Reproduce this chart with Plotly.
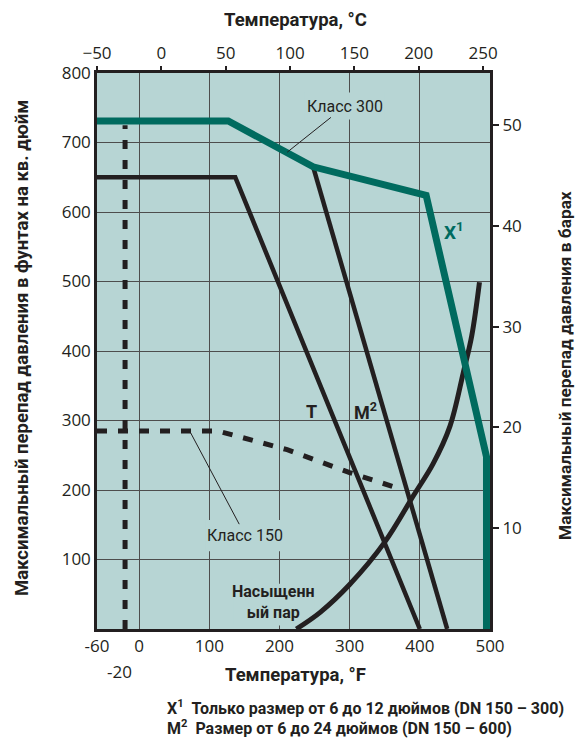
import plotly.graph_objects as go

# Axis ticks
temp_f_ticks = [-60, 0, 100, 200, 300, 400, 500]
temp_c_ticks = [-50, 0, 50, 100, 150, 200, 250]
psi_ticks = [100, 200, 300, 400, 500, 600, 700, 800]
bar_ticks = [10, 20, 30, 40, 50]

# Class 300 rating (teal)
class300_f = [-60, 127, 248, 409, 495, 495]
class300_psi = [731, 731, 665, 624, 248, 0]

# Class 150 rating (dashed)
class150_f = [-60, 112, 211, 300, 368]
class150_psi = [285, 285, 258, 225, 203]

# Minimum temperature limit (dashed vertical)
min_temp_f = [-20, -20]
min_temp_psi = [0, 725]

# Seat material limits
t_f = [-60, 137, 400]
t_psi = [650, 650, 0]
m_f = [248, 439]
m_psi = [665, 0]

# Saturated steam curve
steam_f = [224, 258, 300, 350, 391, 419, 443, 462, 474, 485]
steam_psi = [0, 24, 64, 125, 192, 238, 292, 369, 422, 499]

TEAL = "#006b5f"
INK = "#231f20"
BG = "#b7d5d4"
GRID = "#4d4d4d"
NUM_FONT = "Open Sans, Noto Sans, sans-serif"
COND_FONT = "Liberation Sans Narrow, Arial Narrow, Roboto, sans-serif"

PSI_PER_BAR = 14.5038

fig = go.Figure()

fig.add_trace(go.Scatter(x=min_temp_f, y=min_temp_psi, mode="lines",
                         line=dict(color=INK, width=5, dash="9px,11px"),
                         hoverinfo="skip", showlegend=False))
fig.add_trace(go.Scatter(x=class150_f, y=class150_psi, mode="lines",
                         line=dict(color=INK, width=5, dash="10px,11px"),
                         hoverinfo="skip", showlegend=False))
fig.add_trace(go.Scatter(x=t_f, y=t_psi, mode="lines",
                         line=dict(color=INK, width=4.5),
                         hoverinfo="skip", showlegend=False))
fig.add_trace(go.Scatter(x=m_f, y=m_psi, mode="lines",
                         line=dict(color=INK, width=4.5),
                         hoverinfo="skip", showlegend=False))
fig.add_trace(go.Scatter(x=steam_f, y=steam_psi, mode="lines",
                         line=dict(color=INK, width=5, shape="spline", smoothing=1),
                         hoverinfo="skip", showlegend=False))
fig.add_trace(go.Scatter(x=class300_f, y=class300_psi, mode="lines",
                         line=dict(color=TEAL, width=7),
                         hoverinfo="skip", showlegend=False))

# Secondary scales (°C on top, bar on the right)
fig.add_trace(go.Scatter(x=[temp_c_ticks[0], temp_c_ticks[-1]],
                         y=[bar_ticks[0], bar_ticks[-1]],
                         xaxis="x2", yaxis="y2", mode="markers",
                         marker=dict(opacity=0), hoverinfo="skip", showlegend=False))

x_range = [-60, 500]
y_range = [0, 800]

fig.update_layout(
    width=588, height=741,
    margin=dict(l=97, r=98, t=73, b=112),
    paper_bgcolor="white",
    plot_bgcolor=BG,
    showlegend=False,
    xaxis=dict(range=x_range, tickvals=temp_f_ticks, ticktext=[str(v) for v in temp_f_ticks],
               showgrid=True, gridcolor=GRID, gridwidth=1, zeroline=False,
               showline=True, linecolor=INK, linewidth=2.5, mirror=True,
               ticks="", tickfont=dict(family=NUM_FONT, size=17, color=INK)),
    yaxis=dict(range=y_range, tickvals=psi_ticks, ticktext=[str(v) for v in psi_ticks],
               showgrid=True, gridcolor=GRID, gridwidth=1, zeroline=False,
               showline=True, linecolor=INK, linewidth=2.5, mirror=True,
               ticks="", tickfont=dict(family=NUM_FONT, size=17, color=INK)),
    xaxis2=dict(overlaying="x", side="top", range=[-50, 255.4], tickvals=temp_c_ticks,
                showgrid=False, zeroline=False, showline=False,
                ticks="outside", ticklen=6, tickwidth=2, tickcolor=INK,
                tickfont=dict(family=NUM_FONT, size=17, color=INK)),
    yaxis2=dict(overlaying="y", side="right", range=[0, y_range[1] / PSI_PER_BAR],
                tickvals=bar_ticks, showgrid=False, zeroline=False, showline=False,
                ticks="outside", ticklen=8, tickwidth=2, tickcolor=INK,
                tickfont=dict(family=NUM_FONT, size=17, color=INK)),
)

# Gaps in the grid behind the curve labels
label_gaps = [
    dict(x0=236, x1=350, y0=733, y1=772),   # Класс 300
    dict(x0=94, x1=208, y0=112, y1=157),    # Класс 150
    dict(x0=134, x1=250, y0=5, y1=65),      # Насыщенный пар
]
for g in label_gaps:
    fig.add_shape(type="rect", xref="x", yref="y", layer="between",
                  fillcolor=BG, line=dict(width=0), **g)

ann = []
# Axis titles
ann.append(dict(text="<b>Температура, °C</b>", xref="paper", yref="paper", x=0.504, y=1.0953,
                xanchor="center", yanchor="middle",
                showarrow=False, font=dict(family=COND_FONT, size=18.5, color=INK)))
ann.append(dict(text="<b>Температура, °F</b>", xref="paper", yref="paper", x=0.506, y=-0.0827,
                xanchor="center", yanchor="middle",
                showarrow=False, font=dict(family=COND_FONT, size=18.5, color=INK)))
ann.append(dict(text="<b>Максимальный перепад давления в фунтах на кв. дюйм</b>",
                xref="paper", yref="paper", x=-0.1908, y=0.5054, textangle=-90,
                xanchor="center", yanchor="middle",
                showarrow=False, font=dict(family=COND_FONT, size=18.5, color=INK)))
ann.append(dict(text="<b>Максимальный перепад давления в барах</b>",
                xref="paper", yref="paper", x=1.1908, y=0.4748, textangle=-90,
                xanchor="center", yanchor="middle",
                showarrow=False, font=dict(family=COND_FONT, size=17.3, color=INK)))
ann.append(dict(text="-20", xref="x", yref="paper", x=-20, xshift=-6, y=-0.0773,
                xanchor="center", yanchor="middle",
                showarrow=False, font=dict(family=NUM_FONT, size=17, color=INK)))

# Curve labels with leader lines
ann.append(dict(text="Класс 300", xref="x", yref="y", x=211, y=686,
                axref="x", ayref="y", ax=293, ay=752, showarrow=True, arrowhead=0,
                arrowwidth=1, arrowcolor=INK, borderpad=1,
                font=dict(family=COND_FONT, size=16, color=INK)))
ann.append(dict(text="Класс 150", xref="x", yref="y", x=72, y=285,
                axref="x", ayref="y", ax=151, ay=135, showarrow=True, arrowhead=0,
                arrowwidth=1, arrowcolor=INK, borderpad=1,
                font=dict(family=COND_FONT, size=16, color=INK)))
ann.append(dict(text="<b>Насыщенн<br>ый пар</b>", xref="x", yref="y", x=192, y=39,
                xanchor="center", yanchor="middle",
                showarrow=False, font=dict(family=COND_FONT, size=16, color=INK)))
ann.append(dict(text="<b>T</b>", xref="x", yref="y", x=246, y=313,
                xanchor="center", yanchor="middle",
                showarrow=False, font=dict(family=COND_FONT, size=18, color=INK)))
ann.append(dict(text="<b>M<sup>2</sup></b>", xref="x", yref="y", x=322, y=313,
                xanchor="center", yanchor="middle",
                showarrow=False, font=dict(family=COND_FONT, size=18, color=INK)))
ann.append(dict(text="<b>X<sup>1</sup></b>", xref="x", yref="y", x=448, y=572,
                xanchor="center", yanchor="middle",
                showarrow=False, font=dict(family=COND_FONT, size=19, color=TEAL)))

# Footnotes
ann.append(dict(text="<b>X<sup>1</sup>  Только размер от 6 до 12 дюймов (DN 150 – 300)</b>",
                xref="paper", yref="paper", x=0.173, y=-0.1403, xanchor="left", yanchor="middle",
                showarrow=False, font=dict(family=COND_FONT, size=16, color=INK)))
ann.append(dict(text="<b>M<sup>2</sup>  Размер от 6 до 24 дюймов (DN 150 – 600)</b>",
                xref="paper", yref="paper", x=0.173, y=-0.178, xanchor="left", yanchor="middle",
                showarrow=False, font=dict(family=COND_FONT, size=16, color=INK)))

fig.update_layout(annotations=ann)

fig.write_html("out.html")
